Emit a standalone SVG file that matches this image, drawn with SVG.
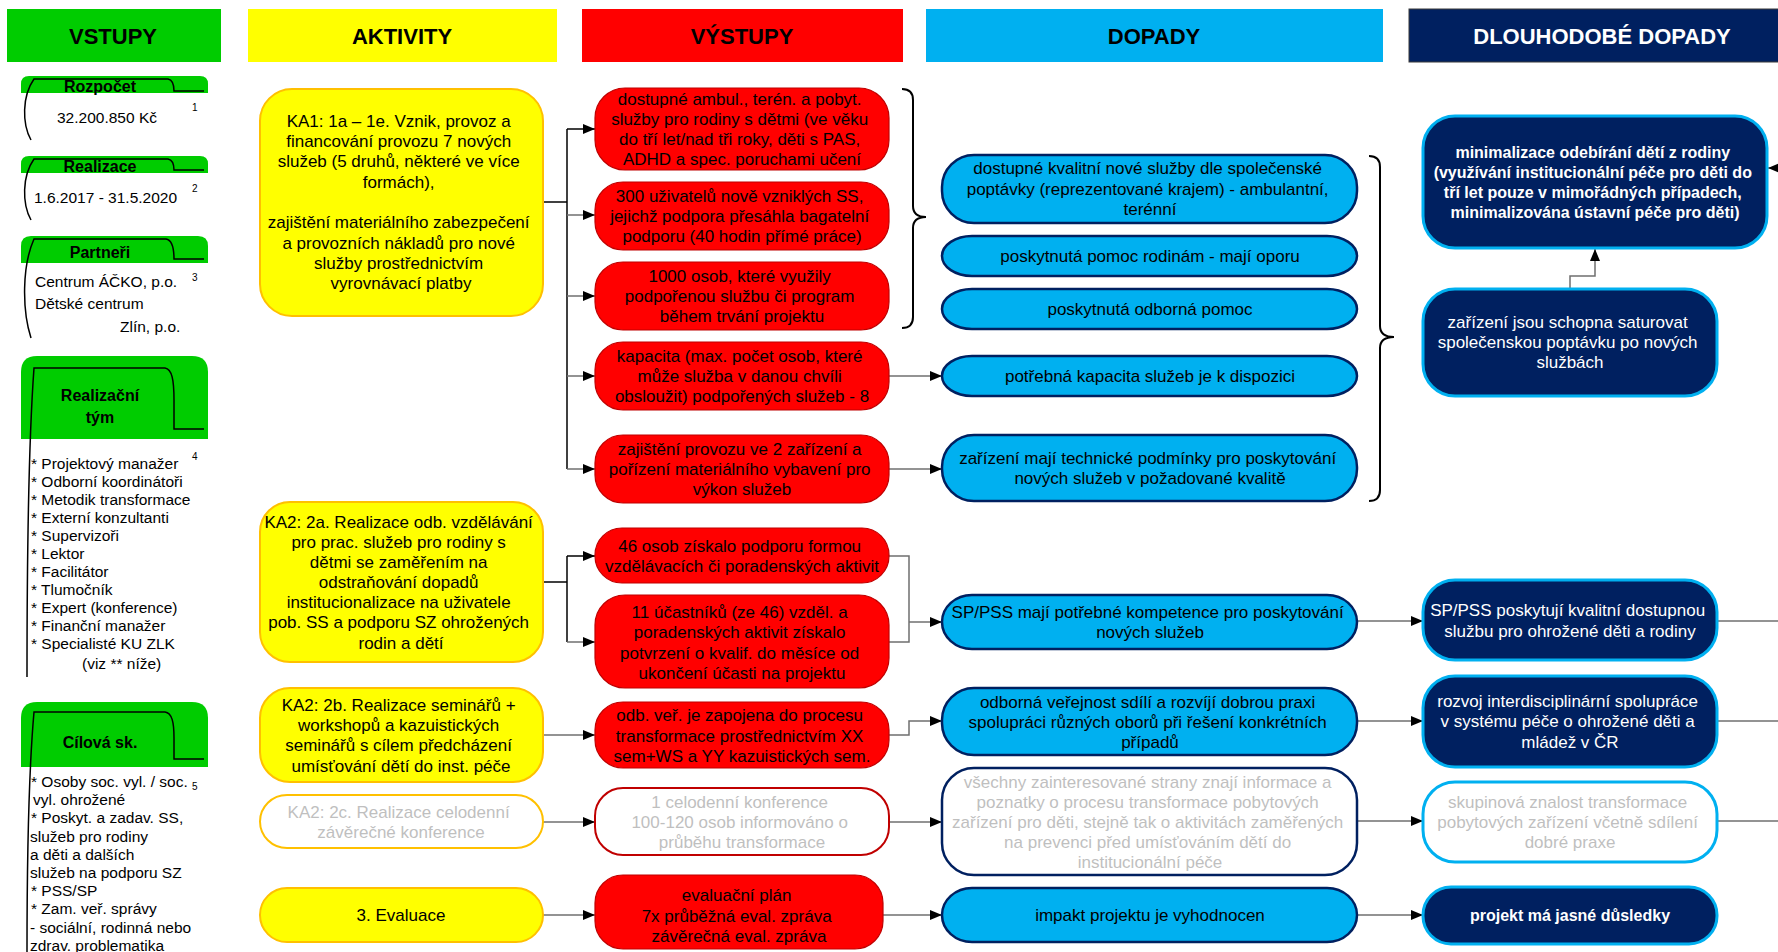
<svg xmlns="http://www.w3.org/2000/svg" width="1778" height="952" viewBox="0 0 1778 952">
  <defs>
    <marker id="ah" viewBox="0 0 12 10" refX="12" refY="5" markerWidth="12" markerHeight="10" markerUnits="userSpaceOnUse" orient="auto">
      <path d="M0,0 L12,5 L0,10 z" fill="#000"/>
    </marker>
    <style>
      text { font-family: "Liberation Sans", Arial, sans-serif; }
      .t { font-size: 17px; text-anchor: middle; dominant-baseline: central; fill: #000; }
      .hd { font-size: 22px; font-weight: bold; text-anchor: middle; dominant-baseline: central; }
      .tab { font-size: 16px; font-weight: bold; text-anchor: middle; dominant-baseline: central; }
      .ls { font-size: 15.5px; dominant-baseline: central; fill: #000; }
      .sup { font-size: 10px; fill: #000; }
      .b { font-weight: bold; font-size: 16px; }
      .w { fill: #fff; }
      .g { fill: #BFBFBF; }
      .act { fill: #FFFF00; stroke: #FFC000; stroke-width: 2; }
      .act-off { fill: #fff; stroke: #FFC000; stroke-width: 2; }
      .out { fill: #FF0000; stroke: #C00000; stroke-width: 1.2; }
      .out-off { fill: #fff; stroke: #C00000; stroke-width: 2; }
      .imp { fill: #00B0F0; stroke: #002060; stroke-width: 2.5; }
      .imp-off { fill: #fff; stroke: #002060; stroke-width: 2.5; }
      .lt { fill: #002060; stroke: #00B0F0; stroke-width: 3; }
      .lt-off { fill: #fff; stroke: #00B0F0; stroke-width: 3; }
      .green { fill: #00CC00; }
      .tabline { fill: none; stroke: #000; stroke-width: 1.5; }
      .bus { fill: none; stroke: #000; stroke-width: 1.5; }
      .cn { fill: none; stroke: #6F6F6F; stroke-width: 1.5; }
      .brace { fill: none; stroke: #000; stroke-width: 2; }
    </style>
  </defs>

  <rect width="1778" height="952" fill="#fff"/>

  <!-- column headers -->
  <g id="headers">
    <rect x="7" y="9" width="214" height="53" fill="#00CC00"/>
    <text class="hd" x="113" y="36">VSTUPY</text>
    <rect x="248" y="9" width="309" height="53" fill="#FFFF00"/>
    <text class="hd" x="402" y="36">AKTIVITY</text>
    <rect x="582" y="9" width="321" height="53" fill="#FF0000"/>
    <text class="hd" x="742" y="36">VÝSTUPY</text>
    <rect x="926" y="9" width="457" height="53" fill="#00B0F0"/>
    <text class="hd" x="1154" y="36">DOPADY</text>
    <rect x="1409" y="9" width="380" height="53" fill="#002060" stroke="#3A3A3A" stroke-width="1"/>
    <text class="hd w" x="1602" y="36">DLOUHODOBÉ DOPADY</text>
  </g>

  <!-- inputs column -->
  <g id="input-budget">
    <path class="green" d="M21,93 V84 Q21,76 29,76 H200 Q208,76 208,84 V93 Z"/>
    <path class="tabline" d="M31,140 C22,124 22,96 34,79 H168 C173,80 174,85 174,91 H204"/>
    <text class="tab" x="100" y="86">Rozpočet</text>
    <text class="ls" x="57" y="117">32.200.850 Kč</text>
    <text class="sup" x="192" y="111">1</text>
  </g>

  <g id="input-period">
    <path class="green" d="M21,173 V164 Q21,156 29,156 H200 Q208,156 208,164 V173 Z"/>
    <path class="tabline" d="M31,220 C22,204 22,176 34,159 H168 C173,160 174,165 174,170 H204"/>
    <text class="tab" x="100" y="166">Realizace</text>
    <text class="ls" x="34" y="197">1.6.2017 - 31.5.2020</text>
    <text class="sup" x="192" y="192">2</text>
  </g>

  <g id="input-partners">
    <path class="green" d="M21,263 V246 Q21,236 31,236 H198 Q208,236 208,246 V263 Z"/>
    <path class="tabline" d="M31,338 C22,310 22,266 34,239 H166 C172,240 174,248 174,259 H204"/>
    <text class="tab" x="100" y="252">Partneři</text>
    <text class="ls" x="35" y="281">Centrum ÁČKO, p.o.</text>
    <text class="sup" x="192" y="281">3</text>
    <text class="ls" x="35" y="303">Dětské centrum</text>
    <text class="ls" x="120" y="326">Zlín, p.o.</text>
  </g>

  <g id="input-team">
    <path class="green" d="M21,439 V372 Q21,356 37,356 H192 Q208,356 208,372 V439 Z"/>
    <path class="tabline" d="M27,677 C27,560 28,450 34,368 H165 C172,369 174,380 174,400 V429 H204"/>
    <text class="tab" x="100" y="395">Realizační</text>
    <text class="tab" x="100" y="417">tým</text>
    <text class="sup" x="192" y="460">4</text>
    <text class="ls" x="31" y="463">* Projektový manažer</text>
    <text class="ls" x="31" y="481">* Odborní koordinátoři</text>
    <text class="ls" x="31" y="499">* Metodik transformace</text>
    <text class="ls" x="31" y="517">* Externí konzultanti</text>
    <text class="ls" x="31" y="535">* Supervizoři</text>
    <text class="ls" x="31" y="553">* Lektor</text>
    <text class="ls" x="31" y="571">* Facilitátor</text>
    <text class="ls" x="31" y="589">* Tlumočník</text>
    <text class="ls" x="31" y="607">* Expert (konference)</text>
    <text class="ls" x="31" y="625">* Finanční manažer</text>
    <text class="ls" x="31" y="643">* Specialisté KU ZLK</text>
    <text class="ls" x="82" y="663">(viz ** níže)</text>
  </g>

  <g id="input-target">
    <path class="green" d="M21,767 V718 Q21,702 37,702 H192 Q208,702 208,718 V767 Z"/>
    <path class="tabline" d="M27,952 C27,860 28,780 34,712 H165 C172,713 174,722 174,738 V759 H204"/>
    <text class="tab" x="100" y="742">Cílová sk.</text>
    <text class="sup" x="192" y="790">5</text>
    <text class="ls" x="31" y="781">* Osoby soc. vyl. / soc.</text>
    <text class="ls" x="33" y="799">vyl. ohrožené</text>
    <text class="ls" x="31" y="817">* Poskyt. a zadav. SS,</text>
    <text class="ls" x="30" y="836">služeb pro rodiny</text>
    <text class="ls" x="30" y="854">a děti a dalších</text>
    <text class="ls" x="30" y="872">služeb na podporu SZ</text>
    <text class="ls" x="31" y="890">* PSS/SP</text>
    <text class="ls" x="31" y="908">* Zam. veř. správy</text>
    <text class="ls" x="30" y="927">- sociální, rodinná nebo</text>
    <text class="ls" x="30" y="945">zdrav. problematika</text>
  </g>

  <!-- connectors -->
  <g id="connectors">
    <path class="bus" d="M543,202 H567"/>
    <path class="bus" d="M567,129 V469"/>
    <path class="bus" d="M567,129 H595" marker-end="url(#ah)"/>
    <path class="cn" d="M567,215 H595" marker-end="url(#ah)"/>
    <path class="cn" d="M567,296 H595" marker-end="url(#ah)"/>
    <path class="cn" d="M567,376 H595" marker-end="url(#ah)"/>
    <path class="cn" d="M567,469 H595" marker-end="url(#ah)"/>

    <path class="bus" d="M543,582 H567"/>
    <path class="bus" d="M567,556 V642"/>
    <path class="bus" d="M567,556 H595" marker-end="url(#ah)"/>
    <path class="cn" d="M567,642 H595" marker-end="url(#ah)"/>

    <path class="cn" d="M889,556 H909 V642 H889"/>
    <path class="cn" d="M909,622 H942" marker-end="url(#ah)"/>

    <path class="cn" d="M543,735 H595" marker-end="url(#ah)"/>
    <path class="cn" d="M543,822 H595" marker-end="url(#ah)"/>
    <path class="cn" d="M543,915 H595" marker-end="url(#ah)"/>

    <path class="cn" d="M889,376 H942" marker-end="url(#ah)"/>
    <path class="cn" d="M889,469 H942" marker-end="url(#ah)"/>
    <path class="cn" d="M889,735 H909 V721 H942" marker-end="url(#ah)"/>
    <path class="cn" d="M889,822 H942" marker-end="url(#ah)"/>
    <path class="cn" d="M883,915 H942" marker-end="url(#ah)"/>

    <path class="cn" d="M1357,621 H1423" marker-end="url(#ah)"/>
    <path class="cn" d="M1357,721 H1423" marker-end="url(#ah)"/>
    <path class="cn" d="M1357,821 H1423" marker-end="url(#ah)"/>
    <path class="cn" d="M1357,915 H1423" marker-end="url(#ah)"/>

    <path class="cn" d="M1717,621 H1778"/>
    <path class="cn" d="M1717,721 H1778"/>
    <path class="cn" d="M1717,821 H1778"/>

    <path class="cn" d="M1570,289 V276 H1595 V249" marker-end="url(#ah)"/>
    <path class="cn" d="M1778,168 H1768" marker-end="url(#ah)"/>

    <path class="brace" d="M902,89 Q913,89 913,100 V206 Q913,217 926,217 Q913,217 913,228 V317 Q913,328 902,328"/>
    <path class="brace" d="M1369,156 Q1380,156 1380,167 V326 Q1380,337 1394,337 Q1380,337 1380,348 V490 Q1380,501 1369,501"/>
  </g>

  <!-- activities -->
  <g id="ka1">
    <rect class="act" x="260" y="89" width="283" height="227" rx="32"/>
    <text class="t">
      <tspan x="401" y="121">KA1: 1a – 1e. Vznik, provoz a</tspan>
      <tspan x="401" y="141">financování provozu 7 nových</tspan>
      <tspan x="401" y="161">služeb (5 druhů, některé ve více</tspan>
      <tspan x="401" y="182">formách),</tspan>
      <tspan x="401" y="222">zajištění materiálního zabezpečení</tspan>
      <tspan x="401" y="243">a provozních nákladů pro nové</tspan>
      <tspan x="401" y="263">služby prostřednictvím</tspan>
      <tspan x="401" y="283">vyrovnávací platby</tspan>
    </text>
  </g>
  <g id="ka2a">
    <rect class="act" x="260" y="502" width="283" height="160" rx="30"/>
    <text class="t">
      <tspan x="401" y="522">KA2: 2a. Realizace odb. vzdělávání</tspan>
      <tspan x="401" y="542">pro prac. služeb pro rodiny s</tspan>
      <tspan x="401" y="562">dětmi se zaměřením na</tspan>
      <tspan x="401" y="582">odstraňování dopadů</tspan>
      <tspan x="401" y="602">institucionalizace na uživatele</tspan>
      <tspan x="401" y="622">pob. SS a podporu SZ ohrožených</tspan>
      <tspan x="401" y="643">rodin a dětí</tspan>
    </text>
  </g>
  <g id="ka2b">
    <rect class="act" x="260" y="688" width="283" height="94" rx="30"/>
    <text class="t">
      <tspan x="401" y="705">KA2: 2b. Realizace seminářů +</tspan>
      <tspan x="401" y="725">workshopů a kazuistických</tspan>
      <tspan x="401" y="745">seminářů s cílem předcházení</tspan>
      <tspan x="401" y="766">umísťování dětí do inst. péče</tspan>
    </text>
  </g>
  <g id="ka2c">
    <rect class="act-off" x="260" y="795" width="283" height="53" rx="27"/>
    <text class="t g">
      <tspan x="401" y="812">KA2: 2c. Realizace celodenní</tspan>
      <tspan x="401" y="832">závěrečné konference</tspan>
    </text>
  </g>
  <g id="ka3">
    <rect class="act" x="260" y="888" width="283" height="54" rx="27"/>
    <text class="t" x="401" y="915">3. Evaluace</text>
  </g>

  <!-- outputs -->
  <g id="out-services">
    <rect class="out" x="595" y="88" width="294" height="82" rx="30"/>
    <text class="t">
      <tspan x="742" y="99">dostupné ambul., terén. a pobyt.</tspan>
      <tspan x="742" y="119">služby pro rodiny s dětmi (ve věku</tspan>
      <tspan x="742" y="139">do tří let/nad tři roky, děti s PAS,</tspan>
      <tspan x="742" y="159">ADHD a spec. poruchami učení</tspan>
    </text>
  </g>
  <g id="out-users">
    <rect class="out" x="595" y="182" width="294" height="68" rx="28"/>
    <text class="t">
      <tspan x="742" y="196">300 uživatelů nově vzniklých SS,</tspan>
      <tspan x="742" y="216">jejichž podpora přesáhla bagatelní</tspan>
      <tspan x="742" y="236">podporu (40 hodin přímé práce)</tspan>
    </text>
  </g>
  <g id="out-persons">
    <rect class="out" x="595" y="262" width="294" height="68" rx="28"/>
    <text class="t">
      <tspan x="742" y="276">1000 osob, které využily</tspan>
      <tspan x="742" y="296">podpořenou službu či program</tspan>
      <tspan x="742" y="316">během trvání projektu</tspan>
    </text>
  </g>
  <g id="out-capacity">
    <rect class="out" x="595" y="342" width="294" height="68" rx="28"/>
    <text class="t">
      <tspan x="742" y="356">kapacita (max. počet osob, které</tspan>
      <tspan x="742" y="376">může služba v danou chvíli</tspan>
      <tspan x="742" y="396">obsloužit) podpořených služeb - 8</tspan>
    </text>
  </g>
  <g id="out-facilities">
    <rect class="out" x="595" y="435" width="294" height="68" rx="28"/>
    <text class="t">
      <tspan x="742" y="449">zajištění provozu ve 2 zařízení a</tspan>
      <tspan x="742" y="469">pořízení materiálního vybavení pro</tspan>
      <tspan x="742" y="489">výkon služeb</tspan>
    </text>
  </g>
  <g id="out-trained">
    <rect class="out" x="595" y="528" width="294" height="55" rx="27"/>
    <text class="t">
      <tspan x="742" y="546">46 osob získalo podporu formou</tspan>
      <tspan x="742" y="566">vzdělávacích či poradenských aktivit</tspan>
    </text>
  </g>
  <g id="out-certified">
    <rect class="out" x="595" y="595" width="294" height="93" rx="30"/>
    <text class="t">
      <tspan x="742" y="612">11 účastníků (ze 46) vzděl. a</tspan>
      <tspan x="742" y="632">poradenských aktivit získalo</tspan>
      <tspan x="742" y="653">potvrzení o kvalif. do měsíce od</tspan>
      <tspan x="742" y="673">ukončení účasti na projektu</tspan>
    </text>
  </g>
  <g id="out-seminars">
    <rect class="out" x="595" y="702" width="294" height="66" rx="28"/>
    <text class="t">
      <tspan x="742" y="715">odb. veř. je zapojena do procesu</tspan>
      <tspan x="742" y="736">transformace prostřednictvím XX</tspan>
      <tspan x="742" y="756">sem+WS a YY kazuistických sem.</tspan>
    </text>
  </g>
  <g id="out-conference">
    <rect class="out-off" x="595" y="788" width="294" height="67" rx="28"/>
    <text class="t g">
      <tspan x="742" y="802">1 celodenní konference</tspan>
      <tspan x="742" y="822">100-120 osob informováno o</tspan>
      <tspan x="742" y="842">průběhu transformace</tspan>
    </text>
  </g>
  <g id="out-evaluation">
    <rect class="out" x="595" y="875" width="288" height="74" rx="28"/>
    <text class="t">
      <tspan x="739" y="895">evaluační plán</tspan>
      <tspan x="739" y="916">7x průběžná eval. zpráva</tspan>
      <tspan x="739" y="936">závěrečná eval. zpráva</tspan>
    </text>
  </g>

  <!-- outcomes -->
  <g id="imp-quality">
    <rect class="imp" x="942" y="155" width="415" height="68" rx="32"/>
    <text class="t">
      <tspan x="1150" y="168">dostupné kvalitní nové služby dle společenské</tspan>
      <tspan x="1150" y="189">poptávky (reprezentované krajem) - ambulantní,</tspan>
      <tspan x="1150" y="209">terénní</tspan>
    </text>
  </g>
  <g id="imp-families">
    <rect class="imp" x="942" y="236" width="415" height="40" rx="30"/>
    <text class="t" x="1150" y="256">poskytnutá pomoc rodinám - mají oporu</text>
  </g>
  <g id="imp-expert">
    <rect class="imp" x="942" y="289" width="415" height="40" rx="30"/>
    <text class="t" x="1150" y="309">poskytnutá odborná pomoc</text>
  </g>
  <g id="imp-capacity">
    <rect class="imp" x="942" y="356" width="415" height="40" rx="30"/>
    <text class="t" x="1150" y="376">potřebná kapacita služeb je k dispozici</text>
  </g>
  <g id="imp-technical">
    <rect class="imp" x="942" y="435" width="415" height="66" rx="32"/>
    <text class="t">
      <tspan x="1150" y="458">zařízení mají technické podmínky pro poskytování</tspan>
      <tspan x="1150" y="478">nových služeb v požadované kvalitě</tspan>
    </text>
  </g>
  <g id="imp-competence">
    <rect class="imp" x="942" y="595" width="415" height="54" rx="30"/>
    <text class="t">
      <tspan x="1150" y="612">SP/PSS mají potřebné kompetence pro poskytování</tspan>
      <tspan x="1150" y="632">nových služeb</tspan>
    </text>
  </g>
  <g id="imp-practice">
    <rect class="imp" x="942" y="688" width="415" height="67" rx="32"/>
    <text class="t">
      <tspan x="1150" y="702">odborná veřejnost sdílí a rozvíjí dobrou praxi</tspan>
      <tspan x="1150" y="722">spolupráci různých oborů při řešení konkrétních</tspan>
      <tspan x="1150" y="742">případů</tspan>
    </text>
  </g>
  <g id="imp-stakeholders">
    <rect class="imp-off" x="942" y="768" width="415" height="107" rx="32"/>
    <text class="t g">
      <tspan x="1150" y="782">všechny zainteresované strany znají informace a</tspan>
      <tspan x="1150" y="802">poznatky o procesu transformace pobytových</tspan>
      <tspan x="1150" y="822">zařízení pro děti, stejně tak o aktivitách zaměřených</tspan>
      <tspan x="1150" y="842">na prevenci před umísťováním dětí do</tspan>
      <tspan x="1150" y="862">institucionální péče</tspan>
    </text>
  </g>
  <g id="imp-evaluated">
    <rect class="imp" x="942" y="888" width="415" height="54" rx="30"/>
    <text class="t" x="1150" y="915">impakt projektu je vyhodnocen</text>
  </g>

  <!-- long-term impacts -->
  <g id="lt-minimize">
    <rect class="lt" x="1423" y="116" width="344" height="132" rx="32"/>
    <text class="t b w">
      <tspan x="1595" y="152">minimalizace odebírání dětí z rodiny</tspan>
      <tspan x="1595" y="172">(využívání institucionální péče pro děti do</tspan>
      <tspan x="1595" y="192">tří let pouze v mimořádných případech,</tspan>
      <tspan x="1595" y="212">minimalizována ústavní péče pro děti)</tspan>
    </text>
  </g>
  <g id="lt-saturate">
    <rect class="lt" x="1423" y="289" width="294" height="107" rx="32"/>
    <text class="t w">
      <tspan x="1570" y="322">zařízení jsou schopna saturovat</tspan>
      <tspan x="1570" y="342">společenskou poptávku po nových</tspan>
      <tspan x="1570" y="362">službách</tspan>
    </text>
  </g>
  <g id="lt-services">
    <rect class="lt" x="1423" y="580" width="294" height="80" rx="32"/>
    <text class="t w">
      <tspan x="1570" y="610">SP/PSS poskytují kvalitní dostupnou</tspan>
      <tspan x="1570" y="631">službu pro ohrožené děti a rodiny</tspan>
    </text>
  </g>
  <g id="lt-cooperation">
    <rect class="lt" x="1423" y="676" width="294" height="91" rx="32"/>
    <text class="t w">
      <tspan x="1570" y="701">rozvoj interdisciplinární spolupráce</tspan>
      <tspan x="1570" y="721">v systému péče o ohrožené děti a</tspan>
      <tspan x="1570" y="742">mládež v ČR</tspan>
    </text>
  </g>
  <g id="lt-knowledge">
    <rect class="lt-off" x="1423" y="782" width="294" height="80" rx="32"/>
    <text class="t g">
      <tspan x="1570" y="802">skupinová znalost transformace</tspan>
      <tspan x="1570" y="822">pobytových zařízení včetně sdílení</tspan>
      <tspan x="1570" y="842">dobré praxe</tspan>
    </text>
  </g>
  <g id="lt-consequences">
    <rect class="lt" x="1423" y="887" width="294" height="57" rx="28"/>
    <text class="t b w" x="1570" y="915">projekt má jasné důsledky</text>
  </g>
</svg>
